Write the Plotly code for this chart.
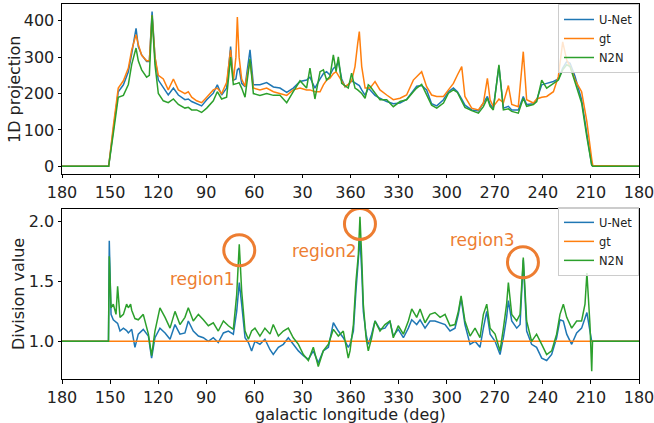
import plotly.graph_objects as go

# Galactic longitude is stored "unwrapped": 180 ... 0 on the left half, then 0 ... -180
# for the displayed 360 ... 180 on the right half.
tick_vals = [180, 150, 120, 90, 60, 30, 0, -30, -60, -90, -120, -150, -180]
tick_text = ["180", "150", "120", "90", "60", "30", "360", "330", "300", "270", "240", "210", "180"]

lon_top = [180, 150.9, 148, 144.9, 141.7, 138.6, 136.5, 133.8, 132.4, 130.3,
           127.2, 125.5, 123.8, 122, 119.9, 116.8, 113.7, 110.5, 107.4, 103.3,
           101.2, 99.1, 96, 92.9, 89.7, 85.6, 83.1, 80.4, 77.3, 74.8,
           73.1, 71.5, 70.6, 69.5, 67.9, 65.8, 62.7, 60.6, 56.5, 52.3,
           48.1, 44, 39.8, 35.7, 31.5, 27.4, 25.3, 22.2, 19, 16.9,
           14.9, 12.8, 10.7, 9.0, 7.6, 5.5, 3.4, 1.4, -0.7, -2.8,
           -4.5, -5.5, -7, -9.1, -11.1, -12.2, -15.3, -18.4, -22.6, -26.7,
           -30.9, -35, -39.2, -41.3, -44.4, -47.5, -50.6, -53.8, -58, -61.1,
           -64.2, -66.7, -69.4, -71.4, -75.6, -79.8, -82.9, -85.4, -87.1, -89.1,
           -92.6, -95.4, -98.5, -100.6, -104.7, -107.8, -109.9, -114.1, -116.2, -119.3,
           -122.4, -126.6, -129.7, -132.4, -134.9, -137, -140.1, -144.2, -147.4, -150.5,
           -151.2, -180]
unet_top = [0, 0, 100, 205, 224, 260, 310, 379, 329, 306,
            288, 288, 425, 301, 237, 215, 196, 215, 196, 183,
            185, 178, 172, 166, 183, 201, 224, 196, 215, 329,
            237, 240, 265, 270, 228, 219, 320, 224, 224, 230,
            218, 215, 203, 215, 233, 237, 245, 215, 240, 255,
            260, 251, 269, 275, 288, 240, 219, 224, 235, 230,
            225, 222, 210, 195, 215, 210, 195, 187, 178, 172,
            174, 184, 210, 220, 222, 210, 172, 166, 183, 205,
            215, 205, 185, 168, 155, 152, 174, 192, 170, 160,
            275, 160, 165, 155, 155, 192, 170, 172, 183, 224,
            228, 233, 240, 270, 288, 283, 247, 183, 91, 3,
            0, 0]
gt_top = [0, 0, 110, 215, 235, 270, 320, 362, 335, 305,
          290, 290, 415, 300, 250, 240, 210, 240, 210, 200,
          205, 190, 180, 175, 190, 210, 215, 200, 230, 320,
          235, 300, 410, 300, 240, 220, 290, 215, 210, 215,
          205, 200, 195, 210, 215, 210, 210, 205, 205, 224,
          237, 242, 255, 260, 251, 235, 219, 225, 235, 274,
          338, 370, 274, 215, 215, 215, 233, 210, 196, 183,
          187, 196, 237, 247, 260, 219, 196, 192, 192, 210,
          228, 251, 274, 192, 160, 155, 174, 242, 183, 164,
          185, 175, 222, 170, 164, 315, 183, 174, 185, 190,
          192, 205, 247, 342, 292, 274, 237, 205, 125, 20,
          2, 0]
n2n_top = [0, 0, 90, 190, 195, 225, 280, 325, 290, 265,
           245, 250, 415, 280, 200, 180, 175, 185, 170, 160,
           162, 155, 155, 148, 160, 180, 205, 185, 190, 300,
           225, 226, 228, 230, 215, 190, 295, 200, 195, 200,
           195, 195, 175, 205, 235, 215, 270, 185, 260, 265,
           237, 247, 306, 260, 301, 228, 220, 215, 256, 215,
           210, 207, 200, 187, 224, 220, 201, 183, 183, 164,
           178, 183, 205, 215, 225, 195, 168, 160, 174, 201,
           210, 203, 180, 162, 153, 146, 164, 187, 165, 155,
           279, 155, 158, 151, 146, 187, 165, 170, 178, 237,
           215, 228, 237, 265, 279, 274, 233, 174, 82, 3,
           0, 0]

lon_div = [180, 151, 150.5, 149.4, 148, 146.3, 145.3, 143.8, 141.7, 139.7,
           138.6, 137.2, 136.5, 134.5, 132.4, 129.3, 126.1, 124.1, 122, 118.9,
           115.7, 112.6, 109.5, 106.4, 103.3, 101.2, 98.1, 94.9, 91.8, 88.7,
           85.6, 82.5, 79.3, 76.2, 73.1, 71, 69.4, 67.9, 65.8, 63.7,
           61.7, 59.6, 56.5, 53.4, 50.2, 48.2, 45, 41.9, 38.8, 35.7,
           32.5, 29.4, 26.3, 23.2, 20.1, 17, 13.8, 10.7, 7.6, 4.5,
           1.4, 0.3, -1.8, -3.4, -4.9, -5.9, -7, -8, -9.7, -11.1,
           -13.2, -15.3, -18.4, -21.5, -24.6, -26.7, -29.8, -33, -36.1, -38.2,
           -41.3, -43.4, -46.5, -49.6, -52.7, -55.9, -59, -62.1, -65.2, -67.3,
           -69, -71.4, -74.6, -77.7, -80.8, -82.9, -85, -87.1, -90.2, -93.3,
           -95.4, -97.4, -98.5, -100.6, -103.7, -105.8, -107.8, -109.9, -113, -116.1,
           -119.3, -122.4, -125.5, -128.6, -130.7, -132.8, -134.9, -138, -141.1, -144.2,
           -146.3, -147.5, -149.4, -150.5, -151, -180]
unet_div = [1, 1, 1.84, 1.225, 1.18, 1.16, 1.15, 1.086, 1.11, 1.09,
            1.07, 1.09, 1.1, 0.95, 1.06, 1.1, 1.044, 0.86, 1.03, 1.11,
            1.07, 1.017, 1.14, 1.06, 1.07, 1.17, 1.086, 1.044, 1.03, 1.0,
            1.03, 0.99, 1.07, 1.086, 1.06, 1.25, 1.49, 1.31, 1.03, 0.99,
            0.92, 1.0, 0.975, 1.017, 0.93, 0.89, 0.95, 0.975, 1.03, 0.975,
            0.92, 0.88, 0.85, 0.92, 0.82, 0.92, 0.95, 1.155, 1.086, 1.03,
            0.95, 0.975, 1.086, 1.42, 1.67, 1.86, 1.59, 1.25, 1.06, 0.975,
            1.06, 1.17, 1.1, 1.11, 1.17, 1.044, 1.1, 1.03, 1.11, 1.18,
            1.14, 1.18, 1.11, 1.17, 1.17, 1.155, 1.14, 1.086, 1.11, 1.225,
            1.36, 1.14, 0.975, 1.0, 0.95, 1.11, 1.25, 1.06, 1.0, 0.89,
            1.03, 1.2, 1.34, 1.17, 1.11, 1.14, 1.68, 1.086, 0.975, 0.95,
            0.86, 0.84, 0.89, 1.03, 1.18, 1.17, 1.06, 0.975, 1.07, 1.11,
            1.2, 1.24, 1.086, 1.0, 1.0, 1]
n2n_div = [1, 1, 1.71, 1.28, 1.31, 1.225, 1.46, 1.2, 1.225, 1.31,
           1.28, 1.31, 1.26, 1.19, 1.18, 1.225, 1.06, 0.88, 1.086, 1.28,
           1.2, 1.11, 1.25, 1.14, 1.2, 1.28, 1.17, 1.225, 1.18, 1.13,
           1.155, 1.086, 1.17, 1.13, 1.1, 1.39, 1.81, 1.42, 1.086, 1.017,
           1.086, 1.11, 1.044, 1.11, 1.06, 1.14, 1.044, 1.086, 1.11, 1.03,
           0.975, 0.89, 0.84, 0.95, 0.79, 0.92, 0.975, 1.1, 1.044, 1.086,
           0.86, 0.92, 1.14, 1.5, 1.725, 2.04, 1.7, 1.31, 1.03, 0.92,
           1.03, 1.17, 1.086, 1.14, 1.17, 1.03, 1.13, 1.06, 1.17, 1.27,
           1.2, 1.27, 1.155, 1.225, 1.24, 1.2, 1.225, 1.13, 1.14, 1.25,
           1.38, 1.17, 1.044, 1.11, 1.03, 1.225, 1.31, 1.11, 1.06, 0.92,
           1.11, 1.31, 1.49, 1.225, 1.17, 1.225, 1.7, 1.17, 1.0, 1.06,
           0.975, 0.89, 0.92, 1.06, 1.225, 1.31, 1.2, 1.11, 1.17, 1.17,
           1.31, 1.57, 1.14, 0.75, 1.0, 1]
lon_gt_div = [180, -180]
gt_div = [1.0, 1.0]

regions = ["region1", "region2", "region3"]
region_circle_lon = [69.4, -5.9, -107.6]
region_circle_val = [1.76, 1.98, 1.66]
region_text_lon = [92.3, 16.2, -82.5]
region_text_val = [1.52, 1.75, 1.85]

BLUE, ORANGE, GREEN = "#1f77b4", "#ff7f0e", "#2ca02c"
ANN = "#ED7D31"
FONT = "DejaVu Sans"
TXT = "#222"

fig = go.Figure()
for name, lon, vals, col in [("U-Net", lon_top, unet_top, BLUE),
                             ("gt", lon_top, gt_top, ORANGE),
                             ("N2N", lon_top, n2n_top, GREEN)]:
    fig.add_trace(go.Scatter(x=lon, y=vals, mode="lines", name=name,
                             line=dict(color=col, width=1.5), xaxis="x", yaxis="y",
                             legend="legend"))
for name, lon, vals, col in [("U-Net", lon_div, unet_div, BLUE),
                             ("gt", lon_gt_div, gt_div, ORANGE),
                             ("N2N", lon_div, n2n_div, GREEN)]:
    fig.add_trace(go.Scatter(x=lon, y=vals, mode="lines", name=name,
                             line=dict(color=col, width=1.5), xaxis="x2", yaxis="y2",
                             legend="legend2"))

axis_common = dict(showline=True, linecolor="black", linewidth=1, mirror=True,
                   ticks="outside", ticklen=3.5, tickwidth=1, tickcolor="black",
                   showgrid=False, zeroline=False, automargin=False,
                   ticklabeloverflow="allow",
                   tickfont=dict(family=FONT, size=16, color=TXT))
xcommon = dict(axis_common, range=[180, -180], tickmode="array",
               tickvals=tick_vals, ticktext=tick_text)

shapes = []
annotations = []
for lo, va in zip(region_circle_lon, region_circle_val):
    shapes.append(dict(type="circle", xref="x2", yref="y2", xsizemode="pixel",
                       ysizemode="pixel", xanchor=lo, yanchor=va,
                       x0=-15.5, x1=15.5, y0=-15.5, y1=15.5,
                       line=dict(color=ANN, width=3)))
for txt, lo, va in zip(regions, region_text_lon, region_text_val):
    annotations.append(dict(text=txt, x=lo, y=va, xref="x2", yref="y2",
                            showarrow=False, xanchor="center", yanchor="middle",
                            font=dict(family=FONT, size=17, color=ANN)))

# axis titles
annotations.append(dict(text="galactic longitude (deg)", xref="paper", yref="paper",
                        x=0.5, y=0, xanchor="center", yanchor="top", yshift=-26,
                        height=17, valign="middle", borderpad=0,
                        showarrow=False, font=dict(family=FONT, size=16, color=TXT)))
annotations.append(dict(text="1D projection", xref="paper", yref="paper",
                        x=0, y=(0.5467 + 1) / 2, xanchor="center", yanchor="middle",
                        xshift=-47, textangle=-90,
                        showarrow=False, font=dict(family=FONT, size=16, color=TXT)))
annotations.append(dict(text="Division value", xref="paper", yref="paper",
                        x=0, y=0.4533 / 2, xanchor="center", yanchor="middle",
                        xshift=-44, textangle=-90,
                        showarrow=False, font=dict(family=FONT, size=16, color=TXT)))

legend_common = dict(bgcolor="rgba(255,255,255,0.8)", bordercolor="#cccccc",
                     borderwidth=1, font=dict(family=FONT, size=11.5, color=TXT),
                     xanchor="right", yanchor="top", x=1.0,
                     tracegroupgap=0, itemwidth=30)

fig.update_layout(
    template="none",
    width=654, height=423,
    margin=dict(l=62, r=15, t=4, b=44),
    paper_bgcolor="white", plot_bgcolor="white",
    font=dict(family=FONT, size=16, color=TXT),
    xaxis=dict(xcommon, domain=[0, 1], anchor="y"),
    yaxis=dict(axis_common, domain=[0.5467, 1], anchor="x", range=[-21, 446],
               tickvals=[0, 100, 200, 300, 400]),
    xaxis2=dict(xcommon, domain=[0, 1], anchor="y2"),
    yaxis2=dict(axis_common, domain=[0, 0.4533], anchor="x2", range=[0.6855, 2.1045],
                tickvals=[1.0, 1.5, 2.0], tickformat=".1f"),
    legend=dict(legend_common, y=1.0),
    legend2=dict(legend_common, y=0.459),
    shapes=shapes,
    annotations=annotations,
    showlegend=True,
)

fig.write_html("out.html", config={"displayModeBar": False},
               post_script="document.body.style.margin='0';")
